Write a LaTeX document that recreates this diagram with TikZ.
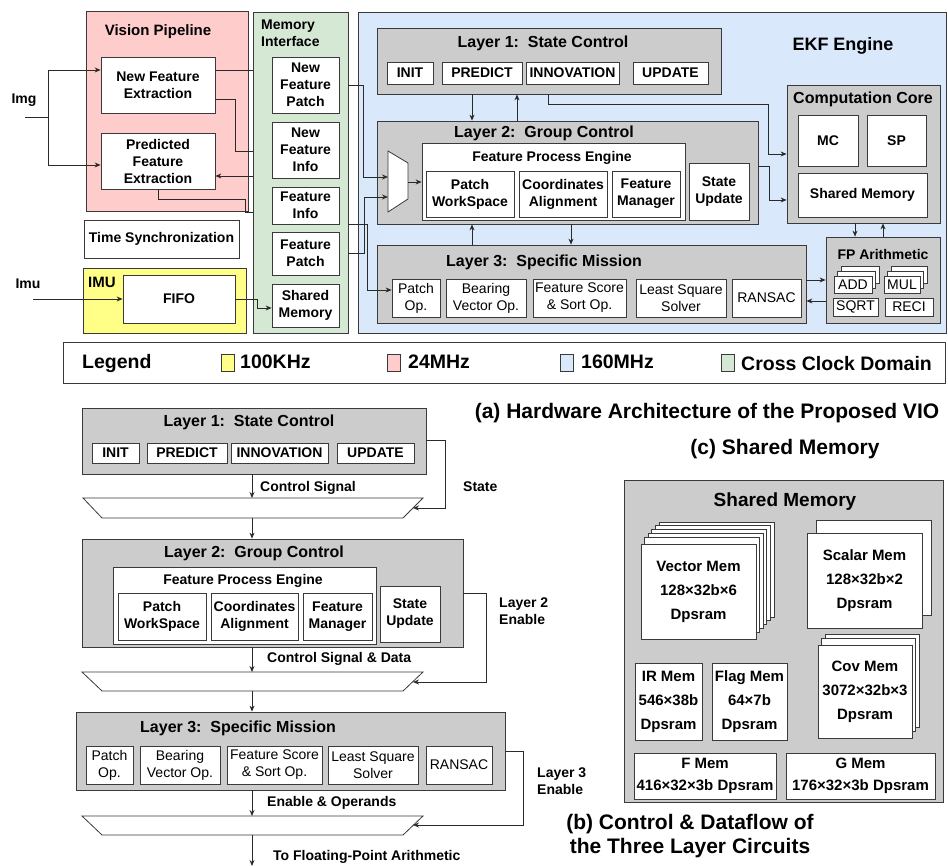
\documentclass[tikz,border=0pt]{standalone}
\usepackage{fontspec}
\setmainfont{Liberation Sans}
\usetikzlibrary{arrows.meta}
\definecolor{lc}{HTML}{3A3A3A}
\definecolor{wire}{HTML}{2A2A2A}
\definecolor{grayf}{HTML}{CCCCCC}
\definecolor{pinkf}{HTML}{FFCCCC}
\definecolor{greenf}{HTML}{D5E8D4}
\definecolor{bluef}{HTML}{DAE8FC}
\definecolor{yellowf}{HTML}{FFFF88}
\newcommand\fsb{\fontsize{14}{17}\selectfont\bfseries}
\newcommand\fsr{\fontsize{14}{17}\selectfont}
\newcommand\fhd{\fontsize{16}{19}\selectfont\bfseries}
\newcommand\fvp{\fontsize{15}{18}\selectfont\bfseries}
\newcommand\fbig{\fontsize{18}{21}\selectfont\bfseries}
\newcommand\fleg{\fontsize{19.5}{22}\selectfont\bfseries}
\newcommand\fcap{\fontsize{21}{24}\selectfont\bfseries}
\newcommand\fmem{\fontsize{15}{24}\selectfont\bfseries}
\newcommand\fmemb{\fontsize{15}{22}\selectfont\bfseries}
\newcommand\fsmt{\fontsize{19}{22}\selectfont\bfseries}
% box given by its corners: name, x1, y1, x2, y2, style, text
\newcommand\mybox[7]{%
  \pgfmathsetmacro\mbW{#4-#2}\pgfmathsetmacro\mbH{#5-#3}%
  \pgfmathsetmacro\mbX{(#2+#4)/2}\pgfmathsetmacro\mbY{(#3+#5)/2}%
  \node[#6, minimum width=\mbW pt, minimum height=\mbH pt] (#1) at (\mbX,\mbY) {#7};}
\tikzset{
  zone/.style={draw=lc, line width=0.8pt, inner sep=0pt},
  grp/.style={zone, fill=grayf},
  bx/.style={draw=lc, line width=0.8pt, fill=white, inner sep=0pt, align=center, font=\fsb},
  rbx/.style={bx, font=\fsr},
  mem/.style={bx, font=\fmem, yshift=-3pt},
  stk/.style={draw=lc, line width=0.8pt, fill=white},
  shp/.style={draw=lc, line width=0.8pt, fill=white},
  wl/.style={draw=wire, line width=0.8pt},
  arr/.style={wl, -{Stealth[length=6pt,width=5pt]}},
  lbl/.style={inner sep=0pt, font=\fsb},
}
\begin{document}
\begin{tikzpicture}[x=1pt,y=-1pt]
\useasboundingbox (0,0) rectangle (948,866);
\fill[white] (0,0) rectangle (948,866);

%% ---------------- (a) hardware architecture ----------------
% clock domains
\mybox{VP}{86}{11}{248}{211}{zone, fill=pinkf}{}
\mybox{MI}{253}{12}{348}{333}{zone, fill=greenf}{}
\mybox{EKF}{358}{12}{946}{333}{zone, fill=bluef}{}
\mybox{IMU}{83}{268}{246}{333}{zone, fill=yellowf}{}
\node[font=\fvp, inner sep=0pt] (VPt) at (158,32) {Vision Pipeline};
\node[lbl, anchor=west, align=left] (MIt) at (261,33.5) {Memory\\Interface};
\node[font=\fbig, inner sep=0pt] (EKFt) at (843,46) {EKF Engine};
\node[lbl, font=\fvp, anchor=west] (IMUt) at (88,282) {IMU};

% vision pipeline
\mybox{NFE}{101}{57}{215}{113}{bx}{New Feature\\Extraction}
\mybox{PFE}{101}{133}{215}{189}{bx}{Predicted\\Feature\\Extraction}
\mybox{TS}{84}{220}{239}{258}{bx}{Time Synchronization}
\mybox{FIFO}{123}{275}{235}{323}{bx}{FIFO}
\node[lbl] (img) at (24,100) {Img};
\node[lbl] (imu) at (28,284) {Imu};

% memory interface
\mybox{NFP}{272}{57}{339}{113}{bx}{New\\Feature\\Patch}
\mybox{NFI}{272}{122}{339}{178}{bx}{New\\Feature\\Info}
\mybox{FI}{272}{187}{339}{224}{bx}{Feature\\Info}
\mybox{FPa}{272}{232}{339}{275}{bx}{Feature\\Patch}
\mybox{SMa}{272}{284}{339}{327}{bx}{Shared\\Memory}

% layer 1
\mybox{L1}{377}{28}{721}{94}{grp}{}
\node[font=\fhd, inner sep=0pt] (L1t) at (543,43) {Layer 1:\ \ State Control};
\mybox{INIT}{387}{62}{433}{84}{bx}{INIT}
\mybox{PRED}{442}{62}{522}{84}{bx}{PREDICT}
\mybox{INNO}{526}{62}{619}{84}{bx}{INNOVATION}
\mybox{UPD}{633}{62}{708}{84}{bx}{UPDATE}

% layer 2
\mybox{L2}{377}{121}{758}{224}{grp}{}
\node[font=\fhd, inner sep=0pt] (L2t) at (544,133) {Layer 2:\ \ Group Control};
\draw[shp] (388,151) -- (408,163) -- (408,199) -- (388,212) -- cycle;
\coordinate (muxA) at (388,177);
\coordinate (muxB) at (388,197);
\coordinate (muxO) at (408,182);
\mybox{FPE}{422}{143}{685}{220}{bx}{}
\node[lbl] (FPEt) at (552,158) {Feature Process Engine};
\mybox{PW}{426}{171}{514}{217}{bx}{Patch\\WorkSpace}
\mybox{CA}{519}{171}{607}{217}{bx}{Coordinates\\Alignment}
\mybox{FM}{612}{171}{680}{217}{bx}{Feature\\Manager}
\mybox{SU}{689}{163}{749}{220}{bx}{State\\Update}

% layer 3
\mybox{L3}{377}{245}{806}{323}{grp}{}
\node[font=\fhd, inner sep=0pt] (L3t) at (544,262) {Layer 3:\ \ Specific Mission};
\mybox{PO}{392}{279}{440}{317}{rbx}{Patch\\Op.}
\mybox{BV}{446}{279}{526}{317}{rbx}{Bearing\\Vector Op.}
\mybox{FS}{533}{279}{626}{317}{rbx}{Feature Score\\\& Sort Op.}
\mybox{LS}{636}{279}{726}{317}{rbx}{Least Square\\Solver}
\mybox{RS}{732}{279}{801}{317}{rbx}{RANSAC}

% computation core
\mybox{CC}{787}{85}{940}{223}{grp}{}
\node[font=\fhd, inner sep=0pt] (CCt) at (863,99) {Computation Core};
\mybox{MC}{798}{115}{858}{166}{bx}{MC}
\mybox{SP}{867}{115}{926}{166}{bx}{SP}
\mybox{SMc}{798}{173}{927}{217}{bx}{Shared Memory}

% floating-point arithmetic
\mybox{FP}{826}{237}{940}{323}{grp}{}
\node[lbl] (FPt) at (883,254) {FP Arithmetic};
\foreach \k in {2,1} {
  \draw[stk] ({834+\k*3.5},{276-\k*5}) rectangle +(38,17);
  \draw[stk] ({884+\k*3.5},{276-\k*5}) rectangle +(36,17);
}
\mybox{ADD}{834}{276}{872}{293}{rbx}{ADD}
\mybox{MUL}{884}{276}{920}{293}{rbx}{MUL}
\mybox{SQRT}{833}{298}{878}{316}{rbx}{SQRT}
\mybox{RECI}{885}{298}{933}{316}{rbx}{RECI}

% connectors, vision side
\coordinate (imgin) at (25,117);
\coordinate (imgfork) at (48,117);
\draw[wl] (imgin) -- (imgfork);
\draw[arr] (imgfork) |- (NFE.west |- 0,70);
\draw[arr] (imgfork) |- (PFE.west |- 0,165);
\draw[wl] (NFE.east |- 0,70) -- (MI.west |- 0,70);
\draw[wl] (NFE.east |- 0,99) -| (235,151) -- (MI.west |- 0,151);
\draw[arr] (MI.west |- 0,176) -- (PFE.east |- 0,176);
\draw[wl] (PFE.south) |- (245,199) |- (MI.west |- 0,212);
\coordinate (imuin) at (33,299);
\draw[arr] (imuin) -- (FIFO.west);
\draw[arr] (FIFO.east) -- (257,299) |- (SMa.west |- 0,308);

% connectors, memory interface to EKF engine
\draw[arr] (MI.east |- 0,85) -| (363,177) -- (muxA);
\draw[arr] (MI.east |- 0,253) -| (364,197) -- (muxB);
\draw[arr] (MI.east |- 0,224) -| (367,290) -- (PO.west |- 0,290);
\draw[arr] (muxO) -- (FPE.west |- muxO);

% connectors inside the EKF engine
\draw[arr] (L1.south -| 472,0) -- (L2.north -| 472,0);
\draw[arr] (L2.north -| 517,0) -- (L1.south -| 517,0);
\draw[arr] (L3.north -| 472,0) -- (L2.south -| 472,0);
\draw[arr] (L2.south -| 571,0) -- (L3.north -| 571,0);
\draw[arr] (L1.south -| 548,0) |- (768,104) |- (CC.west |- 0,154);
\draw[arr] (L2.east |- 0,166) -| (769,200) -- (CC.west |- 0,200);
\draw[arr] (CC.south -| 855,0) -- (FP.north -| 855,0);
\draw[arr] (FP.north -| 883,0) -- (CC.south -| 883,0);
\draw[arr] (L3.east |- 0,280) -- (FP.west |- 0,280);
\draw[arr] (FP.west |- 0,301) -- (L3.east |- 0,301);

% legend
\mybox{LEG}{63}{342}{945}{383}{zone, fill=white}{}
\node[font=\fleg, anchor=west, inner sep=0pt] (legt) at (82,364) {Legend};
\mybox{sqY}{221}{354}{234}{371}{zone, fill=yellowf}{}
\node[font=\fleg, anchor=west, inner sep=0pt] (legY) at (240,362) {100KHz};
\mybox{sqP}{387}{354}{400}{371}{zone, fill=pinkf}{}
\node[font=\fleg, anchor=west, inner sep=0pt] (legP) at (408,362) {24MHz};
\mybox{sqB}{560}{354}{573}{371}{zone, fill=bluef}{}
\node[font=\fleg, anchor=west, inner sep=0pt] (legB) at (581,362) {160MHz};
\mybox{sqG}{721}{354}{734}{371}{zone, fill=greenf}{}
\node[font=\fleg, anchor=west, inner sep=0pt] (legG) at (741,364) {Cross Clock Domain};

% captions
\node[font=\fcap, inner sep=0pt] (capA) at (707,413) {(a) Hardware Architecture of the Proposed VIO};
\node[font=\fcap, inner sep=0pt] (capC) at (785,449) {(c) Shared Memory};
\node[font=\fcap, inner sep=0pt, align=center] (capB) at (690,836) {(b) Control \& Dataflow of\\the Three Layer Circuits};

%% ---------------- (b) control and dataflow ----------------
\mybox{bL1}{82}{408}{426}{474}{grp}{}
\node[font=\fhd, inner sep=0pt] (bL1t) at (249,422) {Layer 1:\ \ State Control};
\mybox{bINIT}{92}{443}{139}{463}{bx}{INIT}
\mybox{bPRED}{147}{443}{227}{463}{bx}{PREDICT}
\mybox{bINNO}{231}{443}{328}{463}{bx}{INNOVATION}
\mybox{bUPD}{337}{443}{414}{463}{bx}{UPDATE}

\draw[shp] (83,498) -- (423,498) -- (403,518) -- (102,518) -- cycle;
\coordinate (T1top) at (252,498);
\coordinate (T1bot) at (252,518);
\coordinate (T1r) at (413,508);

\mybox{bL2}{82}{539}{463}{647}{grp}{}
\node[font=\fhd, inner sep=0pt] (bL2t) at (254,553) {Layer 2:\ \ Group Control};
\mybox{bFPE}{113}{567}{376}{644}{bx}{}
\node[lbl] (bFPEt) at (243,581) {Feature Process Engine};
\mybox{bPW}{118}{593}{206}{640}{bx}{Patch\\WorkSpace}
\mybox{bCA}{211}{593}{298}{640}{bx}{Coordinates\\Alignment}
\mybox{bFM}{303}{593}{372}{640}{bx}{Feature\\Manager}
\mybox{bSU}{380}{586}{440}{642}{bx}{State\\Update}

\draw[shp] (82,672) -- (423,672) -- (403,691) -- (102,691) -- cycle;
\coordinate (T2top) at (252,672);
\coordinate (T2bot) at (252,691);
\coordinate (T2r) at (413,682);

\mybox{bL3}{76}{712}{505}{790}{grp}{}
\node[font=\fhd, inner sep=0pt] (bL3t) at (238,728) {Layer 3:\ \ Specific Mission};
\mybox{bPO}{86}{746}{133}{784}{rbx}{Patch\\Op.}
\mybox{bBV}{140}{746}{220}{784}{rbx}{Bearing\\Vector Op.}
\mybox{bFS}{227}{746}{322}{784}{rbx}{Feature Score\\\& Sort Op.}
\mybox{bLS}{328}{746}{418}{784}{rbx}{Least Square\\Solver}
\mybox{bRS}{426}{746}{492}{784}{rbx}{RANSAC}

\draw[shp] (82,816) -- (423,816) -- (403,835) -- (102,835) -- cycle;
\coordinate (T3top) at (252,816);
\coordinate (T3bot) at (252,835);
\coordinate (T3r) at (413,825);
\coordinate (fpout) at (252,866);

\draw[arr] (bL1.south -| T1top) -- (T1top);
\draw[arr] (T1bot) -- (bL2.north -| T1bot);
\draw[arr] (bL2.south -| T2top) -- (T2top);
\draw[arr] (T2bot) -- (bL3.north -| T2bot);
\draw[arr] (bL3.south -| T3top) -- (T3top);
\draw[arr] (T3bot) -- (fpout);
\draw[arr] (bL1.east |- 0,440) -| (445,508) -- (T1r);
\draw[arr] (bL2.east |- 0,593) -| (486,682) -- (T2r);
\draw[arr] (bL3.east |- 0,751) -| (523,825) -- (T3r);

\node[lbl, anchor=west] (sig1) at (260,488) {Control Signal};
\node[lbl, anchor=west] (sig2) at (267,659) {Control Signal \& Data};
\node[lbl, anchor=west] (sig3) at (267,803) {Enable \& Operands};
\node[lbl, anchor=west] (sig4) at (273,857) {To Floating-Point Arithmetic};
\node[lbl, anchor=west] (st) at (463,487) {State};
\node[lbl, anchor=west, align=left] (en2) at (499,611) {Layer 2\\Enable};
\node[lbl, anchor=west, align=left] (en3) at (537,781) {Layer 3\\Enable};

%% ---------------- (c) shared memory ----------------
\mybox{SMb}{624}{480}{943}{802}{grp}{}
\node[font=\fsmt, inner sep=0pt] (SMbt) at (785,502) {Shared Memory};
\foreach \k in {5,4,...,1}
  \draw[stk] ({641+\k*3.6},{541-\k*3.8}) rectangle +(115,95);
\mybox{VM}{641}{541}{756}{636}{mem}{Vector Mem\\128×32b×6\\Dpsram}
\draw[stk] (816,520) rectangle +(115,95);
\mybox{SCM}{807}{530}{922}{625}{mem}{Scalar Mem\\128×32b×2\\Dpsram}
\mybox{IRM}{635}{660}{702}{737}{mem}{IR Mem\\546×38b\\Dpsram}
\mybox{FLM}{712}{660}{787}{737}{mem}{Flag Mem\\64×7b\\Dpsram}
\foreach \k in {2,1}
  \draw[stk] ({818+\k*3.5},{642-\k*4}) rectangle +(94,93);
\mybox{COV}{818}{642}{912}{735}{mem}{Cov Mem\\3072×32b×3\\Dpsram}
\mybox{FMM}{634}{749}{776}{795}{mem, font=\fmemb, yshift=-1pt}{F Mem\\416×32×3b Dpsram}
\mybox{GMM}{786}{749}{935}{795}{mem, font=\fmemb, yshift=-1pt}{G Mem\\176×32×3b Dpsram}
\end{tikzpicture}
\end{document}
